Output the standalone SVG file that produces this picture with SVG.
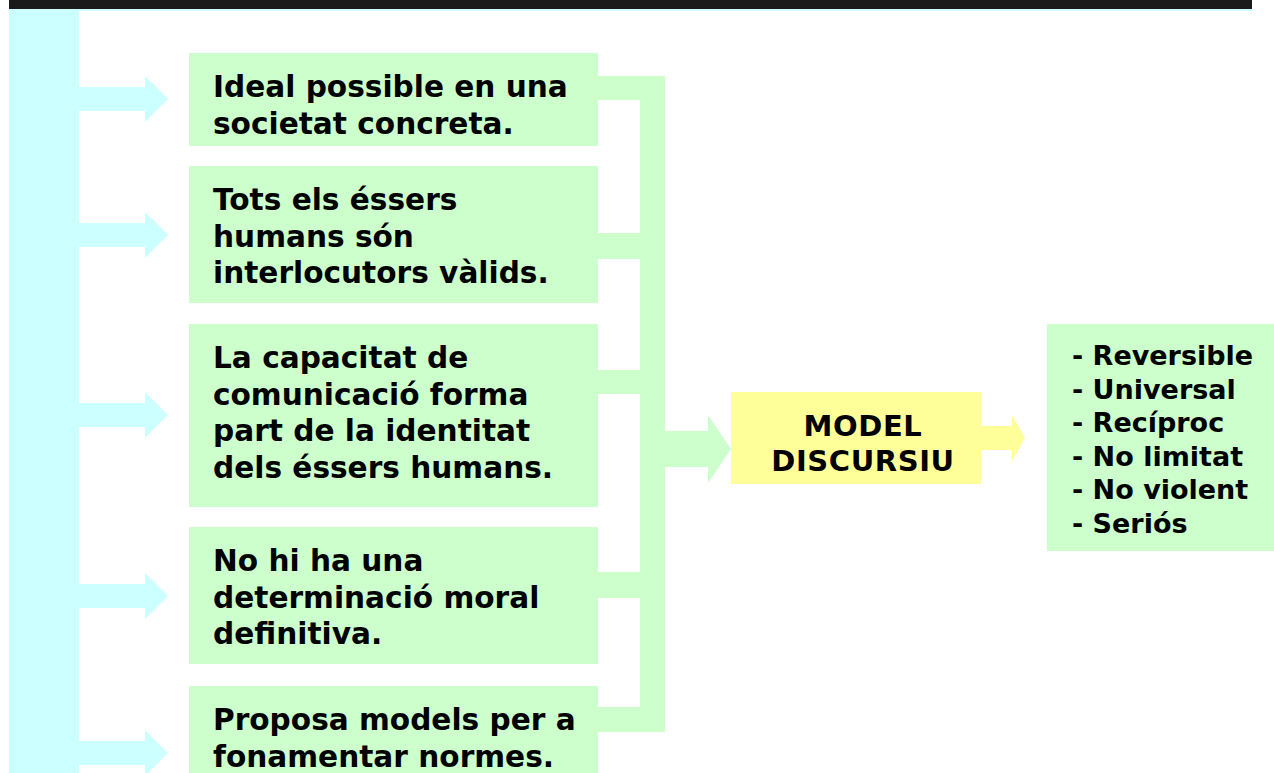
<svg xmlns="http://www.w3.org/2000/svg" width="1274" height="773" viewBox="0 0 1274 773">
<style>
.cy{fill:#CCFFFF}
.gr{fill:#CCFFCC}
.ye{fill:#FFFF99}
.t{font-family:"DejaVu Sans",Verdana,sans-serif;font-weight:bold;fill:#000}
.lt{font-size:29.6px}
.mt{font-size:29px;letter-spacing:0.6px}
.st{font-size:27px}
</style>
<rect x="0" y="0" width="1274" height="773" fill="#FFFFFF"/>
<g id="header">
<rect x="9" y="0" width="1243" height="9" fill="#1A1A1A"/>
<rect x="9" y="9" width="1243" height="2" class="cy"/>
</g>
<g id="connectors">
<rect x="9" y="11" width="70" height="762" class="cy"/>
<path class="cy" d="M79,87 H145 V76 L168,99 L145,122 V111 H79 Z"/>
<path class="cy" d="M79,223 H145 V212 L168,235 L145,258 V247 H79 Z"/>
<path class="cy" d="M79,403 H145 V392 L168,415 L145,438 V427 H79 Z"/>
<path class="cy" d="M79,584 H145 V573 L168,596 L145,619 V608 H79 Z"/>
<path class="cy" d="M79,741 H145 V730 L168,753 L145,776 V765 H79 Z"/>
<rect x="640" y="76" width="25" height="656" class="gr"/>
<rect x="598" y="76" width="67" height="24" class="gr"/>
<rect x="598" y="233" width="67" height="26" class="gr"/>
<rect x="598" y="370" width="67" height="24" class="gr"/>
<rect x="598" y="572" width="67" height="26" class="gr"/>
<rect x="598" y="707" width="67" height="25" class="gr"/>
<path class="gr" d="M665,431 H708 V415 L731,449 L708,483 V467 H665 Z"/>
<path class="ye" d="M981,426 H1012 V415 L1025,438 L1012,461 V450 H981 Z"/>
</g>
<g id="box1">
<rect x="189" y="53" width="409" height="93" class="gr"/>
<text class="t lt" x="213" y="97">Ideal possible en una</text>
<text class="t lt" x="213" y="133.5">societat concreta.</text>
</g>
<g id="box2">
<rect x="189" y="166" width="409" height="137" class="gr"/>
<text class="t lt" x="213" y="210">Tots els éssers</text>
<text class="t lt" x="213" y="246.5">humans són</text>
<text class="t lt" x="213" y="283">interlocutors vàlids.</text>
</g>
<g id="box3">
<rect x="189" y="324" width="409" height="183" class="gr"/>
<text class="t lt" x="213" y="368">La capacitat de</text>
<text class="t lt" x="213" y="404.5">comunicació forma</text>
<text class="t lt" x="213" y="441">part de la identitat</text>
<text class="t lt" x="213" y="477.5">dels éssers humans.</text>
</g>
<g id="box4">
<rect x="189" y="527" width="409" height="137" class="gr"/>
<text class="t lt" x="213" y="571">No hi ha una</text>
<text class="t lt" x="213" y="607.5">determinació moral</text>
<text class="t lt" x="213" y="644">definitiva.</text>
</g>
<g id="box5">
<rect x="189" y="686" width="409" height="100" class="gr"/>
<text class="t lt" x="213" y="730">Proposa models per a</text>
<text class="t lt" x="213" y="766.5">fonamentar normes.</text>
</g>
<g id="model">
<rect x="731" y="392" width="250" height="92" class="ye"/>
<text class="t mt" x="863" y="436" text-anchor="middle">MODEL</text>
<text class="t mt" x="863" y="471" text-anchor="middle">DISCURSIU</text>
</g>
<g id="features">
<rect x="1047" y="324" width="227" height="227" class="gr"/>
<text class="t st" x="1072" y="365">- Reversible</text>
<text class="t st" x="1072" y="398.6">- Universal</text>
<text class="t st" x="1072" y="432.2">- Recíproc</text>
<text class="t st" x="1072" y="465.8">- No limitat</text>
<text class="t st" x="1072" y="499.4">- No violent</text>
<text class="t st" x="1072" y="533">- Seriós</text>
</g>
</svg>
